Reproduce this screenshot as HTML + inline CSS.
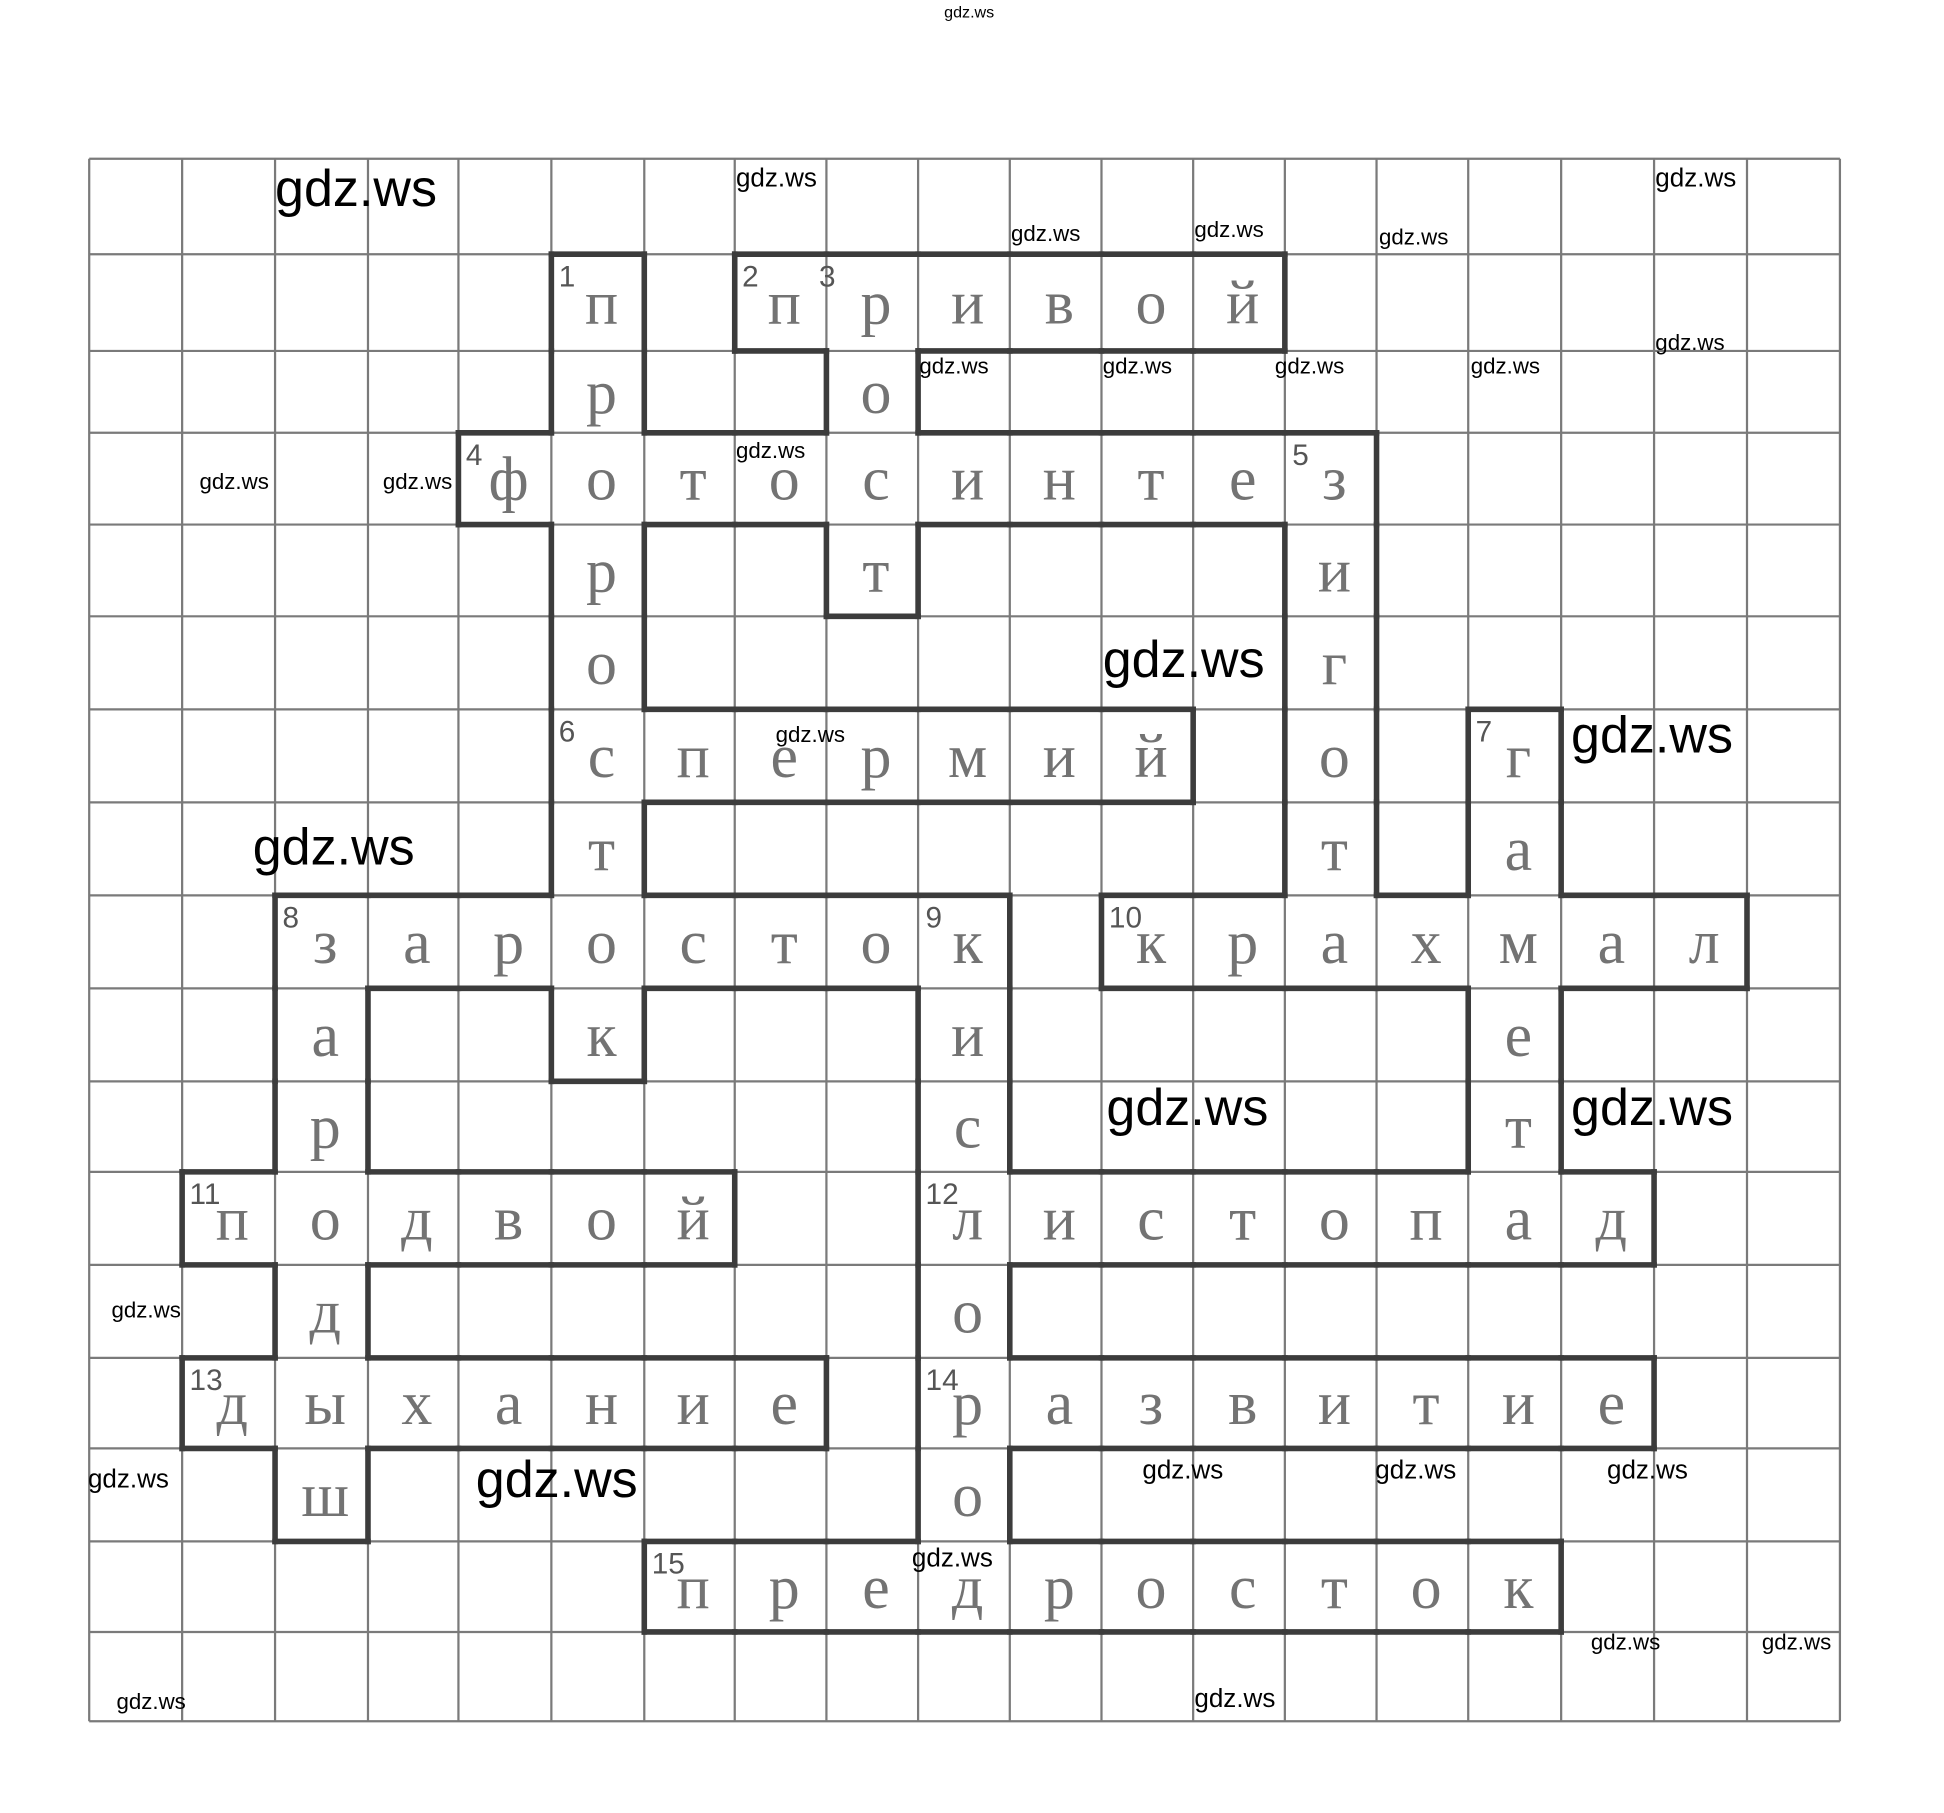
<!DOCTYPE html>
<html><head><meta charset="utf-8"><style>
html,body{margin:0;padding:0;background:#fff;}
svg{display:block;}
.l{font-family:"Liberation Serif",serif;fill:#737373;font-size:50px;text-anchor:middle;}
.n{font-family:"Liberation Sans",sans-serif;fill:#555;font-size:24px;}
.w{font-family:"Liberation Sans",sans-serif;fill:#000;}
</style></head><body>
<svg id="s" width="1944" height="1813" viewBox="0 0 1569 1462" preserveAspectRatio="none" xmlns="http://www.w3.org/2000/svg">
<g id="grid"></g><g id="thick"></g><g id="letters"></g><g id="wm"></g>
</svg>
<script>
var X=[72,147,222,297,370,445,520,593,667,741,815,889,963,1037,1111,1185,1260,1335,1410,1485];
var Y=[128,205,283,349,423,497,572,647,722,797,872,945,1020,1095,1168,1243,1316,1388];
var NS="http://www.w3.org/2000/svg";
function el(t,a,p,txt){var e=document.createElementNS(NS,t);for(var k in a)e.setAttribute(k,a[k]);if(txt!==undefined)e.textContent=txt;document.getElementById(p).appendChild(e);return e;}
for(var i=0;i<X.length;i++)el('line',{x1:X[i],y1:Y[0],x2:X[i],y2:Y[17],stroke:'#7a7a7a','stroke-width':1.8},'grid');
for(var j=0;j<Y.length;j++)el('line',{x1:X[0],y1:Y[j],x2:X[19],y2:Y[j],stroke:'#7a7a7a','stroke-width':1.8},'grid');
var cells={};
function word(r,c,dir,s){for(var i=0;i<s.length;i++){var rr=r+(dir=='v'?i:0),cc=c+(dir=='h'?i:0);cells[rr+','+cc]=s[i];}}
word(1,5,'v','проросток');
word(1,7,'h','привой');
word(1,8,'v','рост');
word(3,4,'h','фотосинтез');
word(3,13,'v','зигот');
word(6,5,'h','спермий');
word(6,15,'v','гамет');
word(8,2,'h','заросток');
word(8,2,'v','зародыш');
word(8,9,'v','кислород');
word(8,11,'h','крахмал');
word(11,1,'h','подвой');
word(11,9,'h','листопад');
word(13,1,'h','дыхание');
word(13,9,'h','развитие');
word(15,6,'h','предросток');
var T={stroke:'#3c3c3c','stroke-width':4.5,'stroke-linecap':'square'};
function tl(x1,y1,x2,y2){var a={x1:x1,y1:y1,x2:x2,y2:y2};for(var k in T)a[k]=T[k];el('line',a,'thick');}
for(var key in cells){var p=key.split(',');var r=+p[0],c=+p[1];
 if(!cells[(r-1)+','+c])tl(X[c],Y[r],X[c+1],Y[r]);
 if(!cells[(r+1)+','+c])tl(X[c],Y[r+1],X[c+1],Y[r+1]);
 if(!cells[r+','+(c-1)])tl(X[c],Y[r],X[c],Y[r+1]);
 if(!cells[r+','+(c+1)])tl(X[c+1],Y[r],X[c+1],Y[r+1]);
 var cx=(X[c]+X[c+1])/2+3,cy=(Y[r]+Y[r+1])/2+17;
 el('text',{x:cx,y:cy,'class':'l'},'letters',cells[key]);
}
var nums=[[1,1,5],[2,1,7],[3,1,8],[4,3,4],[5,3,13],[6,6,5],[7,6,15],[8,8,2],[9,8,9],[10,8,11],[11,11,1],[12,11,9],[13,13,1],[14,13,9],[15,15,6]];
nums.forEach(function(n){el('text',{x:X[n[2]]+(n[0]==3?-6:6),y:Y[n[1]]+26,'class':'n'},'letters',''+n[0]);});
var big=[[222,152],[890,532],[1268,593],[204,683],[893,893],[1268,893],[384,1193]];
big.forEach(function(b){el('text',{x:b[0],y:b[1]+14,'class':'w','font-size':42},'wm','gdz.ws');});
var sm=[[594,143,21],[816,188,18],[964,185,18],[1113,191,18],[1336,143,21],[1336,276,18],[742,295,18],[890,295,18],[1029,295,18],[1187,295,18],[594,363,18],[161,388,18],[309,388,18],[626,592,18],[90,1056,18],[71,1192,21],[922,1185,21],[1110,1185,21],[1297,1185,21],[736,1256,21],[1284,1324,18],[1422,1324,18],[94,1372,18],[964,1369,21]];
sm.forEach(function(b){el('text',{x:b[0],y:b[1]+b[2]*0.35,'class':'w','font-size':b[2]},'wm','gdz.ws');});
el('text',{x:762,y:14,'class':'w','font-size':13,fill:'#5a5a9a'},'wm','gdz.ws');
</script>
</body></html>
